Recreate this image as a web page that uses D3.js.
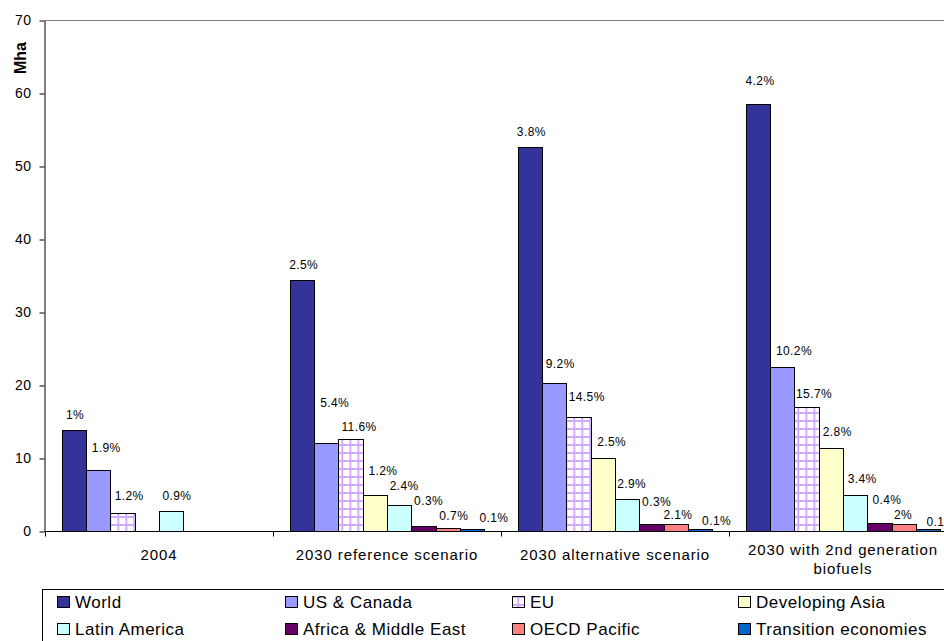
<!DOCTYPE html>
<html>
<head>
<meta charset="utf-8">
<script src="https://cdn.jsdelivr.net/npm/d3@7"></script>
<style>
  html, body { margin: 0; padding: 0; background: #fff; }
  svg { display: block; font-family: "Liberation Sans", Arial, sans-serif; }
</style>
</head>
<body>
<svg id="chart" width="944" height="641"></svg>
<script>
// ---- DATA ----
const categories = ["2004", "2030 reference scenario", "2030 alternative scenario", "2030 with 2nd generation biofuels"];
const categoryLines = [["2004"], ["2030 reference scenario"], ["2030 alternative scenario"], ["2030 with 2nd generation", "biofuels"]];
const seriesNames = ["World", "US & Canada", "EU", "Developing Asia", "Latin America", "Africa & Middle East", "OECD Pacific", "Transition economies"];

const worldValues      = [13.9, 34.5, 52.7, 58.5];
const usCanadaValues   = [8.4, 12.1, 20.4, 22.6];
const euValues         = [2.6, 12.7, 15.7, 17.1];
const devAsiaValues    = [null, 5.0, 10.1, 11.5];
const latAmValues      = [2.8, 3.6, 4.4, 5.0];
const africaMEValues   = [null, 0.8, 1.0, 1.2];
const oecdPacValues    = [null, 0.5, 1.0, 1.0];
const transitionValues = [null, 0.3, 0.3, 0.3];

const worldLabels      = ["1%", "2.5%", "3.8%", "4.2%"];
const usCanadaLabels   = ["1.9%", "5.4%", "9.2%", "10.2%"];
const euLabels         = ["1.2%", "11.6%", "14.5%", "15.7%"];
const devAsiaLabels    = [null, "1.2%", "2.5%", "2.8%"];
const latAmLabels      = ["0.9%", "2.4%", "2.9%", "3.4%"];
const africaMELabels   = [null, "0.3%", "0.3%", "0.4%"];
const oecdPacLabels    = [null, "0.7%", "2.1%", "2%"];
const transitionLabels = [null, "0.1%", "0.1%", "0.1%"];

const yTicks = [0, 10, 20, 30, 40, 50, 60, 70];

// ---- LAYOUT / STYLE (kept apart from data) ----
const seriesValues = [worldValues, usCanadaValues, euValues, devAsiaValues, latAmValues, africaMEValues, oecdPacValues, transitionValues];
const seriesLabels = [worldLabels, usCanadaLabels, euLabels, devAsiaLabels, latAmLabels, africaMELabels, oecdPacLabels, transitionLabels];
const seriesFills = ["#333399", "#9999FF", "url(#euPattern)", "#FFFFCC", "#CCFFFF", "#660066", "#FF8080", "#0066CC"];
// manual data-label nudges (px), as placed in the original
const labelDx = [
  [0.9, 1.6, 1.2, 1.9],
  [7.8, 8.3, 5.9, 11.6],
  [6.6, 8.4, 8.1, 7.4],
  [0, 8.1, 8.8, 6.4],
  [5.8, 5, 4.5, 7],
  [0, 5.2, 5.2, 7.5],
  [0, 6.1, 2.3, -0.5],
  [0, 22, 16.7, 13]
];
const labelDy = [
  [-15, -15, -15.3, -24],
  [-22.4, -40.3, -18.7, -15.6],
  [-17, -12.3, -19.6, -12.7],
  [0, -24.6, -16, -16],
  [-15.6, -19, -15.3, -16.7],
  [0, -25, -22.6, -23.4],
  [0, -12.3, -9.3, -9.3],
  [0, -11.4, -9, -7.6]
];

const svg = d3.select("#chart");
const defs = svg.append("defs");
const pat = defs.append("pattern").attr("id", "euPattern")
  .attr("patternUnits", "userSpaceOnUse").attr("width", 8).attr("height", 8)
  .attr("x", 5.3).attr("y", 4);
pat.append("rect").attr("width", 8).attr("height", 8).attr("fill", "#ffffff");
pat.append("rect").attr("x", 0).attr("y", 0).attr("width", 2).attr("height", 8).attr("fill", "#D4AAFF");
pat.append("rect").attr("x", 0).attr("y", 0).attr("width", 8).attr("height", 2).attr("fill", "#D4AAFF");

const plotLeft = 44.5, plotRight = 957, plotTop = 20.5, plotBottom = 531.5;

const x0 = d3.scaleBand().domain(categories).range([plotLeft + 0.5, plotRight]).paddingInner(0).paddingOuter(0);
const x1 = d3.scaleBand().domain(seriesNames).range([0, x0.bandwidth()]).paddingInner(0).paddingOuter(0.7);
const y = d3.scaleLinear().domain([0, 70]).range([plotBottom, plotTop]);

// top border of plot area
svg.append("line").attr("x1", plotLeft).attr("x2", plotRight).attr("y1", y(70)).attr("y2", y(70))
  .attr("stroke", "#808080").attr("stroke-width", 1);

// bars
const barData = [];
seriesNames.forEach((s, si) => {
  categories.forEach((c, ci) => {
    const v = seriesValues[si][ci];
    if (v != null) barData.push({ s, si, c, ci, v, label: seriesLabels[si][ci] });
  });
});

svg.append("g").selectAll("rect").data(barData).join("rect")
  .attr("x", d => Math.round(x0(d.c) + x1(d.s)) + 0.5)
  .attr("width", d => Math.round(x0(d.c) + x1(d.s) + x1.bandwidth()) - Math.round(x0(d.c) + x1(d.s)))
  .attr("y", d => Math.round(y(d.v)) + 0.5)
  .attr("height", d => y(0) - Math.round(y(d.v)) - 0.5)
  .attr("fill", d => seriesFills[d.si])
  .attr("stroke", "#000").attr("stroke-width", 1);

// data labels
svg.append("g").selectAll("text").data(barData.filter(d => d.label)).join("text")
  .attr("x", d => x0(d.c) + x1(d.s) + x1.bandwidth() / 2 + labelDx[d.si][d.ci])
  .attr("y", d => y(d.v) + labelDy[d.si][d.ci])
  .attr("dy", "0.35em")
  .attr("text-anchor", "middle")
  .attr("font-size", "12px").attr("letter-spacing", "0.4px")
  .attr("fill", "#000")
  .text(d => d.label);

// y axis
const yAxis = svg.append("g").attr("transform", `translate(${plotLeft},0)`)
  .call(d3.axisLeft(y).tickValues(yTicks).tickSize(5).tickSizeOuter(0).tickPadding(8).tickFormat(d3.format("d")));
yAxis.select(".domain").attr("stroke", "#000");
yAxis.selectAll(".tick line").attr("stroke", "#000");
yAxis.selectAll(".tick text").attr("font-size", "14px").attr("letter-spacing", "0.5px")
  .attr("font-family", "Liberation Sans, Arial, sans-serif").attr("fill", "#000");

// x axis line
svg.append("line").attr("x1", plotLeft).attr("x2", plotRight).attr("y1", y(0)).attr("y2", y(0))
  .attr("stroke", "#000").attr("stroke-width", 1);
// category separator ticks
svg.append("g").selectAll("line").data(categories).join("line")
  .attr("x1", c => Math.round(x0(c)) + 0.5).attr("x2", c => Math.round(x0(c)) + 0.5)
  .attr("y1", y(0)).attr("y2", y(0) + 5)
  .attr("stroke", "#000");

// category labels
const catG = svg.append("g");
categories.forEach((c, ci) => {
  const lines = categoryLines[ci];
  const t = catG.append("text")
    .attr("x", x0(c) + x0.bandwidth() / 2)
    .attr("text-anchor", "middle")
    .attr("font-size", "15px").attr("letter-spacing", "0.9px").attr("fill", "#000");
  const startY = lines.length === 1 ? 555 : 550;
  lines.forEach((ln, li) => {
    t.append("tspan").attr("x", x0(c) + x0.bandwidth() / 2).attr("y", startY + li * 18.5)
      .attr("dy", "0.35em").text(ln);
  });
});

// y axis title
svg.append("text").attr("transform", "translate(20,58) rotate(-90)")
  .attr("text-anchor", "middle").attr("dy", "0.35em")
  .attr("font-size", "16px").attr("font-weight", "bold").attr("fill", "#000")
  .text("Mha");

// legend
svg.append("rect").attr("x", 42.5).attr("y", 589.5).attr("width", 920).attr("height", 80)
  .attr("fill", "#fff").attr("stroke", "#000").attr("stroke-width", 1);
const legendCols = [57, 285, 512, 738];
const legendRows = [602, 629];
const legG = svg.append("g");
seriesNames.forEach((s, si) => {
  const cx = legendCols[si % 4];
  const cy = legendRows[Math.floor(si / 4)];
  legG.append("rect").attr("x", cx + 0.5).attr("y", cy - 5.5).attr("width", 12).attr("height", 11)
    .attr("fill", seriesFills[si]).attr("stroke", "#000").attr("stroke-width", 1);
  legG.append("text").attr("x", cx + 18).attr("y", cy).attr("dy", "0.35em")
    .attr("font-size", "17px").attr("letter-spacing", "0.5px").attr("fill", "#000")
    .text(s);
});
</script>
</body>
</html>
